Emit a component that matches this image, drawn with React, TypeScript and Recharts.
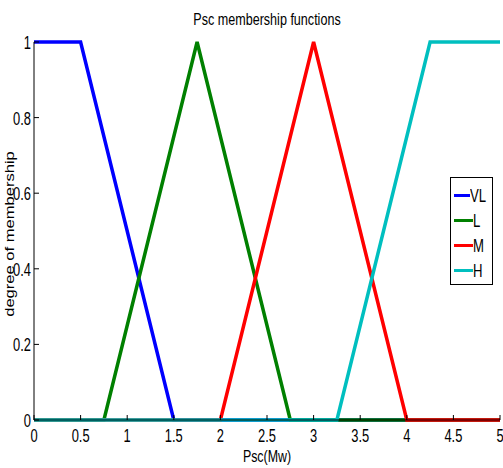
import { LineChart, Line, XAxis, YAxis, Legend } from 'recharts';

const vlX = [0, 0.5, 1.5, 5];
const vlY = [1, 1, 0, 0];
const lX = [0, 0.75, 1.75, 2.75, 5];
const lY = [0, 0, 1, 0, 0];
const mX = [0, 2, 3, 4, 5];
const mY = [0, 0, 1, 0, 0];
const hX = [0, 3.25, 4.25, 5];
const hY = [0, 0, 1, 1];

const xTicks = [0, 0.5, 1, 1.5, 2, 2.5, 3, 3.5, 4, 4.5, 5];
const yTicks = [0, 0.2, 0.4, 0.6, 0.8, 1];

const toRows = (xs: number[], ys: number[]) => xs.map((x, i) => ({ x, y: ys[i] }));

const series = [
  { name: 'VL', color: '#0000ff', data: toRows(vlX, vlY) },
  { name: 'L', color: '#008000', data: toRows(lX, lY) },
  { name: 'M', color: '#ff0000', data: toRows(mX, mY) },
  { name: 'H', color: '#00bfbf', data: toRows(hX, hY) },
];

const FONT = '"Liberation Sans", Arial, sans-serif';

const XTick = (props: any) => {
  const { x, y, payload } = props;
  return (
    <text transform={`translate(${x},${y + 22}) scale(0.68,1)`} textAnchor="middle" fontSize={19} fontFamily={FONT} fill="#000">
      {String(payload.value)}
    </text>
  );
};

const YTick = (props: any) => {
  const { x, y, payload } = props;
  return (
    <text transform={`translate(${x - 3},${y + 7}) scale(0.68,1)`} textAnchor="end" fontSize={19} fontFamily={FONT} fill="#000">
      {String(payload.value)}
    </text>
  );
};

// legend keeps the plotting order (recharts would sort it by name)
const LegendBox = () => (
  <div style={{ width: 43, height: 108, border: '1px solid #000', background: '#fff', boxSizing: 'border-box', paddingTop: 5 }}>
    {series.map((s) => (
      <div key={s.name} style={{ display: 'flex', alignItems: 'center', height: 25 }}>
        <span style={{ display: 'inline-block', marginLeft: 3, width: 19, height: 3, background: s.color }} />
        <span style={{ display: 'inline-block', fontFamily: FONT, fontSize: 18, lineHeight: '20px', transform: 'scale(0.73,1)', transformOrigin: 'left center' }}>
          {s.name}
        </span>
      </div>
    ))}
  </div>
);

export default function App() {
  return (
    <div style={{ position: 'absolute', left: 0, top: 0, background: '#fff' }}>
      <LineChart width={503} height={468} margin={{ top: 42, right: 3, bottom: 0, left: 0 }}>
        <XAxis
          dataKey="x"
          type="number"
          domain={[0, 5]}
          ticks={xTicks}
          height={48}
          tickSize={-5}
          tickMargin={5}
          tick={<XTick />}
          stroke="#000"
          interval={0}
          label={{
            content: (p: any) => {
              const vb = p.viewBox;
              return (
                <text transform={`translate(${vb.x + vb.width / 2},${vb.y + 42}) scale(0.73,1)`} textAnchor="middle" fontSize={17} fontFamily={FONT} fill="#000">
                  Psc(Mw)
                </text>
              );
            },
          }}
        />
        <XAxis xAxisId="top" orientation="top" type="number" domain={[0, 5]} ticks={xTicks} height={0} tickSize={-5} tick={false} stroke="#000" interval={0} />
        <YAxis
          type="number"
          domain={[0, 1]}
          ticks={yTicks}
          width={34}
          tickSize={-5}
          tickMargin={5}
          tick={<YTick />}
          stroke="#000"
          interval={0}
          label={{
            content: (p: any) => {
              const vb = p.viewBox;
              return (
                <text transform={`translate(14,${vb.y + vb.height / 2 + 3}) rotate(-90) scale(1.38,1)`} textAnchor="middle" fontSize={12} fontFamily={FONT} fill="#000">
                  degree of membership
                </text>
              );
            },
          }}
        />
        <YAxis yAxisId="right" orientation="right" type="number" domain={[0, 1]} ticks={yTicks} width={0} tickSize={-5} tick={false} stroke="#000" interval={0} />
        <Legend
          layout="vertical"
          align="center"
          verticalAlign="middle"
          content={<LegendBox />}
          wrapperStyle={{ left: 450, top: 177, width: 43 }}
        />
        {series.map((s) => (
          <Line
            key={s.name}
            data={s.data}
            dataKey="y"
            name={s.name}
            stroke={s.color}
            strokeWidth={3.5}
            dot={false}
            isAnimationActive={false}
            type="linear"
          />
        ))}
        <text transform="translate(267,25) scale(0.74,1)" textAnchor="middle" fontSize={17} fontFamily={FONT} fill="#000">
          Psc membership functions
        </text>
      </LineChart>
    </div>
  );
}
